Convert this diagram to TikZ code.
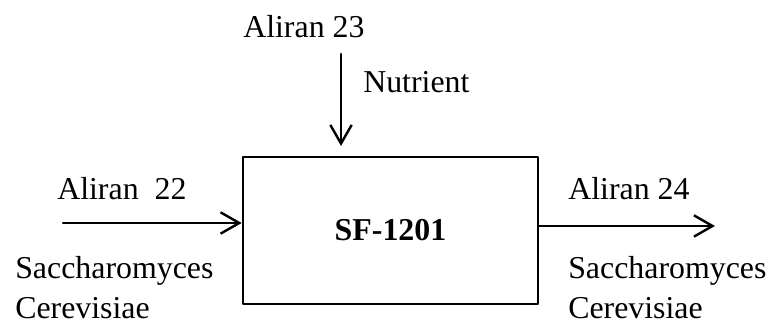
\documentclass[tikz,border=0pt]{standalone}
\usepackage{fontspec}
\setmainfont{Liberation Serif}
\usetikzlibrary{arrows.meta}

\tikzset{
  flow/.style={line width=1.8pt,-{Straight Barb[length=14pt,width=16pt,line width=1.8pt]}},
  lbl/.style={anchor=base west,inner sep=0pt,font=\fontsize{23.9}{30}\selectfont},
}

\begin{document}
\begin{tikzpicture}[x=0.75pt,y=-0.75pt,line cap=round,line join=round]
  \useasboundingbox (0,0) rectangle (770,325);
  \node[draw,line width=2pt,minimum width=221.25pt,minimum height=110.25pt,inner sep=0pt,
    font=\fontsize{23.9}{30}\selectfont\bfseries] (sf) at (390.5,230.5) {SF-1201};
  \coordinate (in23) at (341,54); \coordinate (in23end) at (341,146);
  \coordinate (in22) at (63,223); \coordinate (out24) at (715,226);
  \draw[flow] (in23)--(in23end);
  \draw[flow] (in22)--(in22 -| sf.west);
  \draw[flow] (sf.east |- out24)--(out24);
  \node[lbl] (a23) at (243,37) {Aliran 23}; \node[lbl] (nut) at (363,92) {Nutrient};
  \node[lbl] (a22) at (57,199) {Aliran\ \ 22}; \node[lbl] (a24) at (568,199) {Aliran 24};
  \node[lbl] (sac22) at (15,278) {Saccharomyces}; \node[lbl] (cer22) at (15,318) {Cerevisiae};
  \node[lbl] (sac24) at (568,278) {Saccharomyces}; \node[lbl] (cer24) at (568,318) {Cerevisiae};
\end{tikzpicture}
\end{document}
